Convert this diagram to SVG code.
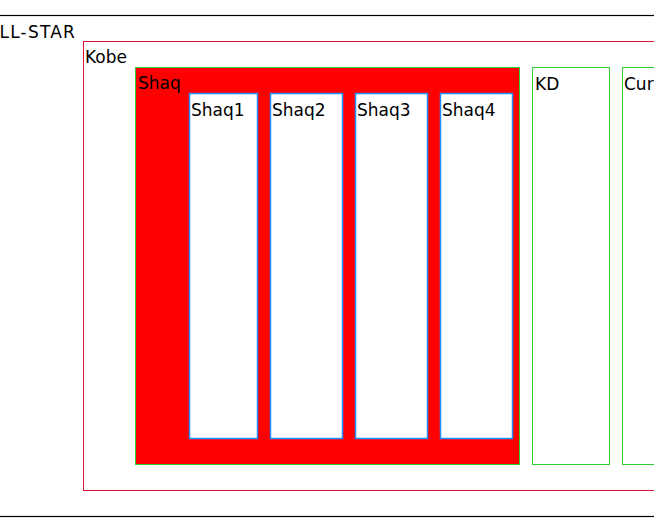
<svg xmlns="http://www.w3.org/2000/svg" width="654" height="526" viewBox="0 0 654 526">
<style>
text{font-family:"Comic Sans MS","DejaVu Sans",sans-serif;font-size:17px;fill:#000}
.grp{fill:#fff;stroke:#dc143c;stroke-width:1}
.team{fill:#fff;stroke:#32cd32;stroke-width:1}
.red{fill:#ff0000;stroke:#32cd32;stroke-width:1}
.sub{fill:#fff;stroke:#1e90ff;stroke-width:1.5}
</style>
<rect width="654" height="526" fill="#fff"/>
<g id="allstar">
<rect x="-100" y="15.5" width="900" height="501" fill="#fff" stroke="#000" stroke-width="1.2"/>
<text x="76" y="38" text-anchor="end" font-size="18" letter-spacing="1.2">ALL-STAR</text>
</g>
<g id="kobe">
<rect class="grp" x="83.5" y="41.5" width="700" height="449"/>
<text x="85" y="63">Kobe</text>
</g>
<g id="shaq">
<rect class="red" x="135.5" y="67.5" width="384" height="397"/>
<text x="138" y="89">Shaq</text>
</g>
<g id="shaq1">
<rect class="sub" x="189.5" y="93.5" width="68" height="345"/>
<text x="191" y="116">Shaq1</text>
</g>
<g id="shaq2">
<rect class="sub" x="270.5" y="93.5" width="72" height="345"/>
<text x="272" y="116">Shaq2</text>
</g>
<g id="shaq3">
<rect class="sub" x="355.5" y="93.5" width="72" height="345"/>
<text x="357" y="116">Shaq3</text>
</g>
<g id="shaq4">
<rect class="sub" x="440.5" y="93.5" width="72" height="345"/>
<text x="442" y="116">Shaq4</text>
</g>
<g id="kd">
<rect class="team" x="532.5" y="67.5" width="77" height="397"/>
<text x="535" y="90">KD</text>
</g>
<g id="curry">
<rect class="team" x="622.5" y="67.5" width="77" height="397"/>
<text x="624" y="90">Curry</text>
</g>
<g id="connectors"/>
</svg>
